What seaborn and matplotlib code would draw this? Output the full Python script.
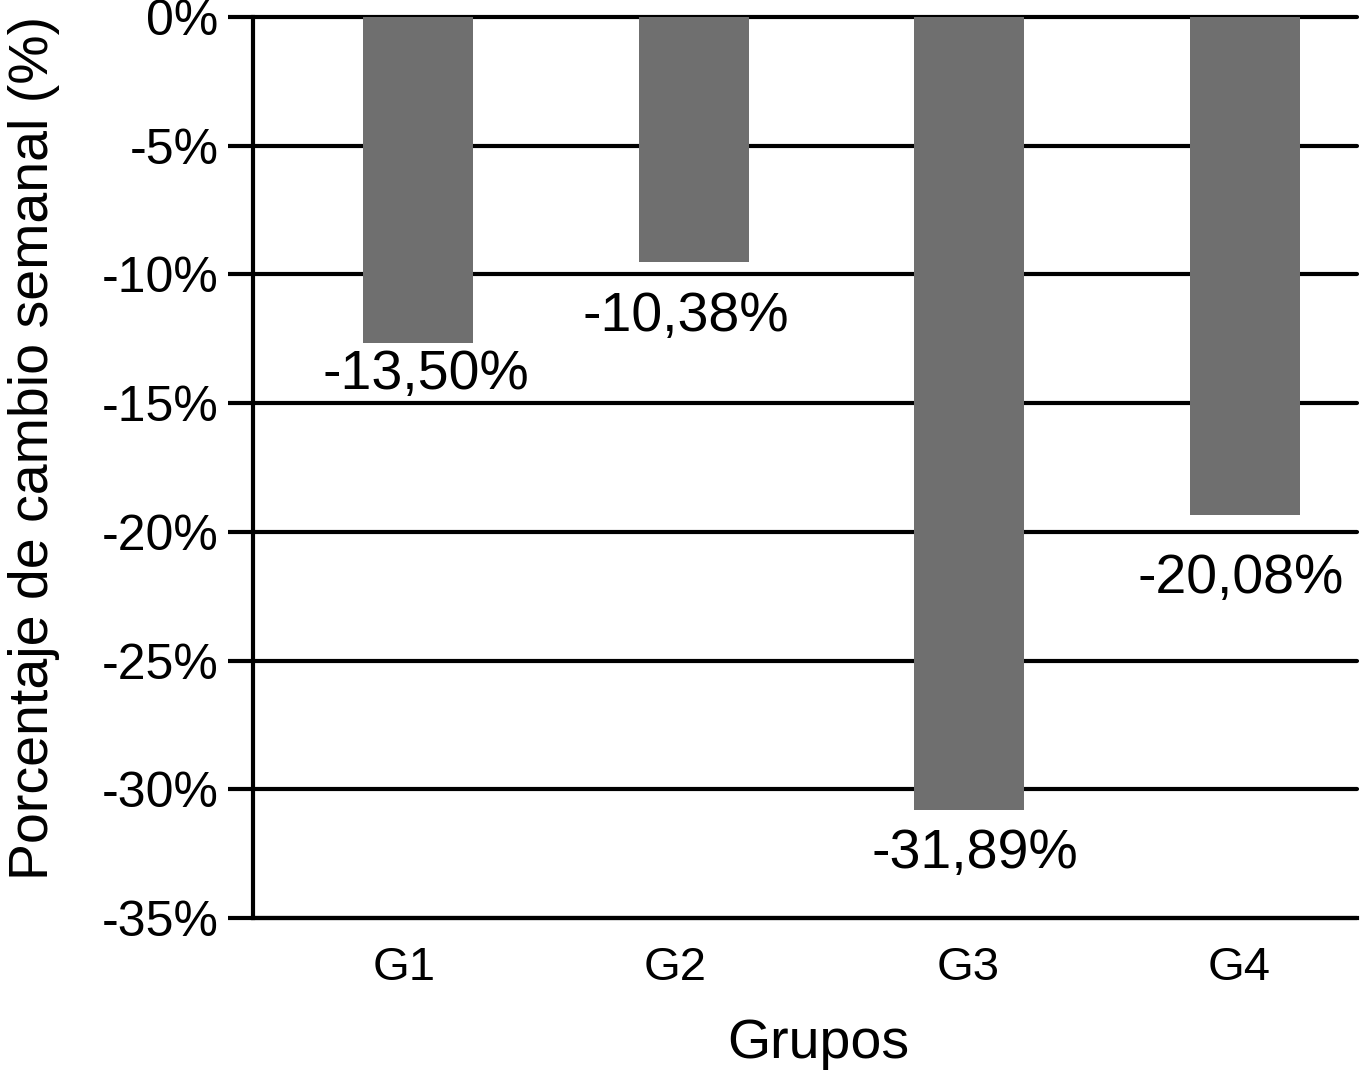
import matplotlib
matplotlib.use("Agg")
import matplotlib.pyplot as plt
import matplotlib.transforms as mtransforms
import seaborn as sns
import pandas as pd
from matplotlib.ticker import FuncFormatter

# values (bar ends) and the printed labels
grupos = ["G1", "G2", "G3", "G4"]
cambio = [-12.67, -9.52, -30.81, -19.35]
etiquetas = ["-13,50%", "-10,38%", "-31,89%", "-20,08%"]

df = pd.DataFrame({"grupo": grupos, "cambio": cambio})

sns.set_theme(style="white")
plt.rcParams["font.family"] = ["Liberation Sans", "DejaVu Sans"]

fig = plt.figure(figsize=(13.61, 10.83), dpi=100)
ax = fig.add_axes([0.186, 0.1524, 0.811, 0.8319])

sns.barplot(data=df, x="grupo", y="cambio", color="#6f6f6f", saturation=1,
            width=0.40, linewidth=0, ax=ax, zorder=3)

ax.set_ylim(-35, 0)
ax.set_xlim(-0.598, 3.406)
ax.set_yticks(range(-35, 1, 5))
ax.yaxis.set_major_formatter(FuncFormatter(lambda v, p: f"{v:.0f}%"))

ax.set_axisbelow(True)
ax.yaxis.grid(True, color="black", linewidth=3)
for gl in ax.get_ygridlines():
    gl.set_clip_on(False)

for s in ["top", "right"]:
    ax.spines[s].set_visible(False)
for s in ["left", "bottom"]:
    ax.spines[s].set_color("black")
    ax.spines[s].set_linewidth(3)

ax.tick_params(axis="y", length=18, width=3, color="black", pad=7,
               labelsize=36, labelcolor="black", left=True)
ax.tick_params(axis="x", length=0, pad=20, labelsize=34, labelcolor="black")

# the group names sit a little left of the bar centres in the original
nudge = [-10, -13, -1, -4]
for lbl, dx in zip(ax.get_xticklabels(), nudge):
    lbl.set_transform(lbl.get_transform() +
                      mtransforms.ScaledTranslation(dx / 72, 0, fig.dpi_scale_trans))

ax.set_xlabel("Grupos", fontsize=40, color="black", labelpad=20)
ax.xaxis.label.set_x(0.512)
ax.set_ylabel("Porcentaje de cambio semanal (%)", fontsize=40, color="black",
              labelpad=30)
ax.yaxis.label.set_y(0.522)

# label offsets (points) below each bar end, as placed in the original
offs = [(6, -4), (-6, -21), (4, -13), (-3, -27)]
for i, (v, lab) in enumerate(zip(cambio, etiquetas)):
    ax.annotate(lab, (i, v), xytext=offs[i], textcoords="offset points",
                ha="center", va="top", fontsize=40, color="black",
                zorder=4)

fig.savefig("out.png", dpi=100)
